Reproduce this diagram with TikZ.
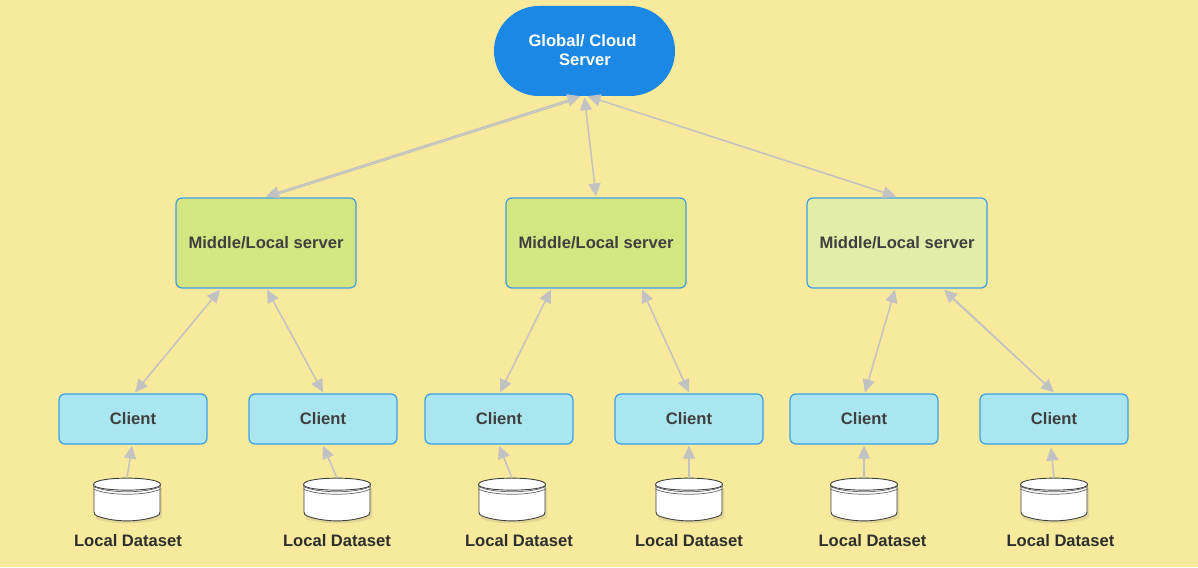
\documentclass[tikz,border=0pt]{standalone}
\usepackage{fontspec}
\setmainfont{Liberation Sans}
\usetikzlibrary{arrows.meta}
\definecolor{bgc}{HTML}{F8EA9C}
\definecolor{cloudc}{HTML}{1C88E6}
\definecolor{midc}{HTML}{D3E681}
\definecolor{midl}{HTML}{E2EDA9}
\definecolor{clic}{HTML}{A9E6F0}
\definecolor{edgec}{HTML}{3A9FE8}
\definecolor{linkc}{HTML}{C2C2C2}
\definecolor{txtc}{HTML}{3F3F3F}
\tikzset{
  x=1pt,y=-1pt,
  boxtext/.style={font=\fontsize{16.6}{18}\selectfont\bfseries,text=txtc,align=center},
  midbox/.style={boxtext,draw=edgec,line width=1.2pt,rounded corners=6pt,fill=midc,minimum width=180pt,minimum height=90pt,inner sep=0pt},
  clibox/.style={boxtext,draw=edgec,line width=1.2pt,rounded corners=6pt,fill=clic,minimum width=148pt,minimum height=50pt,inner sep=0pt},
  cloudbox/.style={fill=cloudc,rounded corners=45pt,minimum width=181pt,minimum height=90pt,inner sep=0pt},
  cloudtext/.style={font=\fontsize{16.6}{19}\selectfont\bfseries,text=white,inner sep=0pt},
  dslabel/.style={font=\fontsize{16.6}{18}\selectfont\bfseries,text=black!82,inner sep=0pt},
  link/.style={draw=linkc,line width=1.5pt,{Triangle[length=13pt,width=12pt]}-{Triangle[length=13pt,width=12pt]}},
  uplink/.style={draw=linkc,line width=1.5pt,-{Triangle[length=13pt,width=12pt]}},
  plainlink/.style={draw=linkc,line width=1.2pt},
  pics/dataset/.style={code={
    \fill[black!50,opacity=.18] (-31,10) -- (-31,41) .. controls (-15,47) and (20,47) .. (35,40) -- (35,10) -- cycle;
    \draw[black!75,fill=white,line width=.9pt] (-33,6) -- (-33,34) .. controls (-33,36) and (-32,37) .. (-30,38) .. controls (-12,44.5) and (12,44.5) .. (30,38) .. controls (32,37) and (33,36) .. (33,34) -- (33,6) -- cycle;
    \draw[black!75,fill=white,line width=.9pt] (-33.5,6.5) .. controls (-33.5,-2) and (33.5,-2) .. (33.5,6.5) .. controls (33.5,14) and (-33.5,14) .. (-33.5,6.5) -- cycle;
    \draw[black!60,line width=.7pt] (-33.5,8.5) .. controls (-20,15.5) and (20,15.5) .. (33.5,8.5);
    \draw[black!60,line width=.7pt] (-33.5,11) .. controls (-20,18) and (20,18) .. (33.5,11);
  }}
}
\begin{document}
\begin{tikzpicture}
\fill[bgc] (0,0) rectangle (1198,567);
\useasboundingbox (0,0) rectangle (1198,567);
% nodes
\node[cloudbox] (g) at (584.5,51) {};
\node[cloudtext] (gt1) at (582.5,41) {Global/ Cloud};
\node[cloudtext] (gt2) at (585,60) {Server};
\node[midbox] (m1) at (266,243) {Middle/Local server};
\node[midbox] (m2) at (596,243) {Middle/Local server};
\node[midbox,fill=midl] (m3) at (897,243) {Middle/Local server};
\node[clibox] (c1) at (133,419) {Client};
\node[clibox] (c2) at (323,419) {Client};
\node[clibox] (c3) at (499,419) {Client};
\node[clibox] (c4) at (689,419) {Client};
\node[clibox] (c5) at (864,419) {Client};
\node[clibox] (c6) at (1054,419) {Client};
% datasets
\foreach \n/\x in {d1/127,d2/337,d3/512,d4/689,d5/864,d6/1054}{
  \coordinate (\n) at (\x,478);
  \pic at (\x,478) {dataset};
}
\node[dslabel] (l1) at (128,541) {Local Dataset};
\node[dslabel] (l2) at (337,541) {Local Dataset};
\node[dslabel] (l3) at (519,541) {Local Dataset};
\node[dslabel] (l4) at (689,541) {Local Dataset};
\node[dslabel] (l5) at (872.5,541) {Local Dataset};
\node[dslabel] (l6) at (1060.5,541) {Local Dataset};
% global to middle
\draw[link] ([yshift=1pt]m1.north) -- ([xshift=-4pt]g.south);
\draw[plainlink] ([xshift=5pt,yshift=1pt]m1.north) -- ([xshift=-8pt,yshift=-3pt]g.south);
\draw[link] ([yshift=1pt]m2.north) -- ([yshift=-1pt]g.south);
\draw[link] ([xshift=-1pt,yshift=1pt]m3.north) -- ([xshift=3pt]g.south);
% middle to client
\draw[link] ([xshift=-46pt,yshift=-1pt]m1.south) -- ([xshift=2pt,yshift=1pt]c1.north);
\draw[link] ([xshift=1pt,yshift=-1pt]m1.south) -- ([yshift=1pt]c2.north);
\draw[link] ([xshift=-45pt,yshift=-1pt]m2.south) -- ([xshift=1pt,yshift=1pt]c3.north);
\draw[link] ([xshift=46pt,yshift=-1pt]m2.south) -- ([yshift=1pt]c4.north);
\draw[link] ([xshift=-2pt,yshift=-1pt]m3.south) -- ([xshift=1pt,yshift=1pt]c5.north);
\draw[link] ([xshift=47pt,yshift=-1pt]m3.south) -- ([yshift=1pt]c6.north);
\draw[plainlink] ([xshift=49pt,yshift=-4pt]m3.south) -- ([xshift=-4pt,yshift=5pt]c6.north);
% dataset to client
\draw[uplink] (d1) -- ([xshift=-1pt,yshift=-1pt]c1.south);
\draw[uplink] (d2) -- ([yshift=-1pt]c2.south);
\draw[uplink] (d3) -- ([yshift=-1pt]c3.south);
\draw[uplink] (d4) -- ([yshift=-1pt]c4.south);
\draw[uplink] (d5) -- ([yshift=-1pt]c5.south);
\draw[uplink] (d6) -- ([xshift=-3pt,yshift=-3pt]c6.south);
\end{tikzpicture}
\end{document}
